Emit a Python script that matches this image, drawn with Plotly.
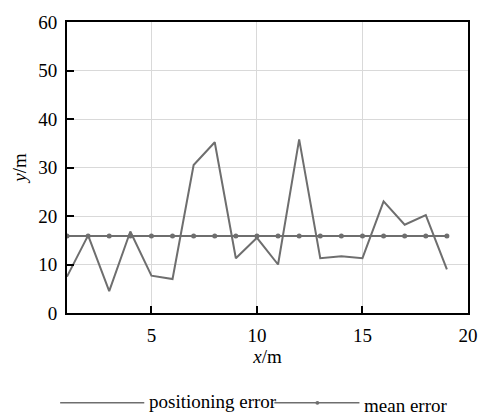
import plotly.graph_objects as go

x_vals = list(range(1, 20))
positioning_error = [7.5, 16.0, 4.5, 16.8, 7.7, 7.0, 30.5, 35.2, 11.3, 15.5,
                     10.0, 35.8, 11.3, 11.7, 11.3, 23.0, 18.2, 20.2, 9.0]
mean_error = [15.9] * 19
x_ticks = [5, 10, 15, 20]
y_ticks = [0, 10, 20, 30, 40, 50, 60]

line_col = "#6e6e6e"
font_fam = "Liberation Serif"
fs = 19

fig = go.Figure()
fig.add_trace(go.Scatter(x=x_vals, y=positioning_error, mode="lines",
                         line=dict(color=line_col, width=2), name="positioning error",
                         showlegend=False))
fig.add_trace(go.Scatter(x=x_vals, y=mean_error, mode="lines+markers",
                         line=dict(color=line_col, width=2),
                         marker=dict(color=line_col, size=5),
                         name="mean error", showlegend=False))

axis_common = dict(showline=True, linecolor="black", linewidth=2, mirror=True,
                   ticks="inside", ticklen=7, tickwidth=2, tickcolor="black",
                   showgrid=True, gridcolor="#d9d9d9", gridwidth=1, zeroline=False,
                   tickfont=dict(family=font_fam, size=fs, color="black"))

fig.update_xaxes(range=[1, 20], tickvals=x_ticks, ticklabelstandoff=4,
                 title=dict(text="<i>x</i>/m", font=dict(family=font_fam, size=fs, color="black"),
                            standoff=5),
                 **axis_common)
fig.update_yaxes(range=[0, 60], tickvals=y_ticks, ticklabelstandoff=4,
                 title=dict(text="<i>y</i>/m", font=dict(family=font_fam, size=fs, color="black"),
                            standoff=7),
                 **axis_common)

# manual legend
def px2x(px):
    return (px - 67) / 410.0

ly = (313 - 405) / 298.0
fig.add_shape(type="line", xref="paper", yref="paper", x0=px2x(60), x1=px2x(146),
              y0=ly, y1=ly, line=dict(color=line_col, width=1.5))
fig.add_annotation(xref="paper", yref="paper", x=px2x(149), y=ly + 1 / 298.0, xanchor="left",
                   yanchor="middle", showarrow=False, text="positioning error",
                   font=dict(family=font_fam, size=fs, color="black"))
fig.add_shape(type="line", xref="paper", yref="paper", x0=px2x(279), x1=px2x(366),
              y0=ly, y1=ly, line=dict(color=line_col, width=1.5))
fig.add_shape(type="circle", xref="paper", yref="paper",
              x0=px2x(321), x1=px2x(325), y0=ly - 2 / 298.0, y1=ly + 2 / 298.0,
              fillcolor=line_col, line=dict(color=line_col, width=0))
fig.add_annotation(xref="paper", yref="paper", x=px2x(369), y=ly - 3 / 298.0, xanchor="left",
                   yanchor="middle", showarrow=False, text="mean error",
                   font=dict(family=font_fam, size=fs, color="black"))

fig.update_layout(width=490, height=420, margin=dict(l=67, r=13, t=15, b=107),
                  paper_bgcolor="white", plot_bgcolor="white",
                  font=dict(family=font_fam, size=fs, color="black"))

fig.write_html("out.html")
